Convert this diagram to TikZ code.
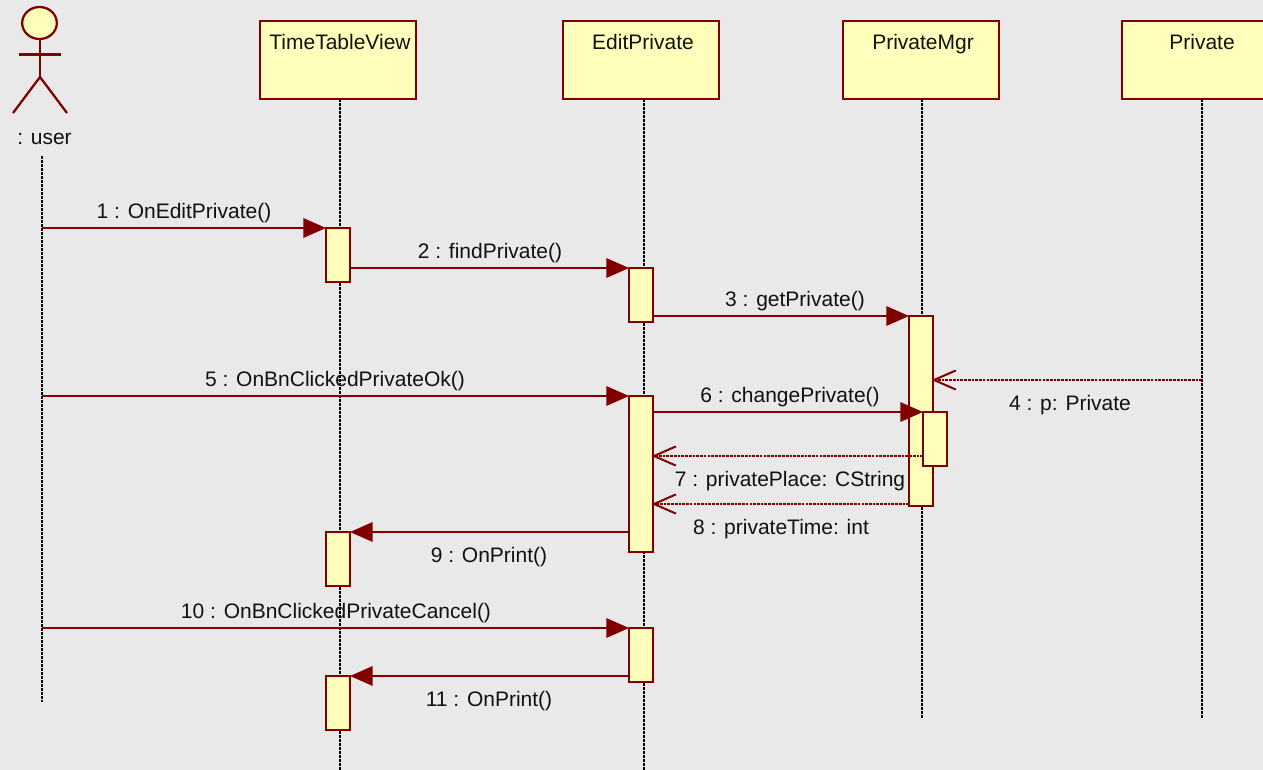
\documentclass[tikz,border=0pt]{standalone}
\usepackage{fontspec}
\setmainfont{Liberation Sans}
\usetikzlibrary{arrows.meta,shapes.geometric}
\definecolor{bgc}{HTML}{E9E9E9}
\definecolor{linec}{HTML}{800000}
\definecolor{fillc}{HTML}{FFFFBB}
\definecolor{txtc}{HTML}{111111}
\tikzset{
  headbox/.style={draw=linec,fill=fillc,line width=1.8pt,rectangle,inner sep=0pt,outer sep=0pt,anchor=north west,
    minimum width=117pt,text height=21.75pt,text depth=36.75pt,text=txtc,font=\fontsize{15.75}{18}\selectfont,
    execute at begin node={\hspace*{3pt}}},
  actbox/.style={draw=linec,fill=fillc,line width=1.8pt,rectangle,inner sep=0pt,outer sep=0pt,anchor=north west,minimum width=18pt},
  lifeline/.style={draw=black,line width=1.5pt,dash pattern=on 2pt off 1pt},
  callmsg/.style={draw=linec,line width=1.8pt,-{Triangle[length=17pt,width=14.5pt]}},
  retmsg/.style={draw=linec,line width=1.6pt,dash pattern=on 2pt off 0.8pt,-{Straight Barb[length=16pt,width=14pt,line width=1.5pt,round]}},
  msglabel/.style={anchor=base,inner sep=0pt,text=txtc,font=\fontsize{15.75}{18}\selectfont},
  figure/.style={draw=linec,line width=1.7pt}
}
\begin{document}
\begin{tikzpicture}[x=0.75pt,y=0.75pt]
\path[use as bounding box,fill=bgc] (0,0) rectangle (1263,-770);
\clip (0,0) rectangle (1263,-770);
% actor
\node[draw=linec,fill=fillc,line width=1.7pt,ellipse,minimum width=26pt,minimum height=24pt,inner sep=0pt,outer sep=0pt] (head) at (39.5,-23) {};
\coordinate (hip) at (40,-77);
\coordinate (armL) at (19,-54.5);
\coordinate (armR) at (61,-54.5);
\coordinate (footL) at (13,-113);
\coordinate (footR) at (67,-113);
\draw[figure] (head.south -| hip) -- (hip);
\draw[figure] (armL) -- (armR);
\draw[figure] (footL) -- (hip) -- (footR);
\node[msglabel] (user) at (44.5,-145) {: user};
% header boxes
\node[headbox] (tv) at (260,-21) {TimeTableView};
\node[headbox] (ep) at (563,-21) {EditPrivate};
\node[headbox] (pm) at (843,-21) {PrivateMgr};
\node[headbox] (pv) at (1122,-21) {Private};
% lifeline ends
\coordinate (ustart) at (42,-156);
\coordinate (uend) at (42,-702);
\coordinate (tvend) at (340,-772);
\coordinate (epend) at (643.5,-772);
\coordinate (pmend) at (922,-718);
\coordinate (pvend) at (1202,-718);
\draw[lifeline] (ustart) -- (uend);
\draw[lifeline] (tv.south -| tvend) -- (tvend);
\draw[lifeline] (ep.south -| epend) -- (epend);
\draw[lifeline] (pm.south -| pmend) -- (pmend);
\draw[lifeline] (pv.south -| pvend) -- (pvend);
% activations
\node[actbox,minimum height=40.5pt] (tva) at (326,-228) {};
\node[actbox,minimum height=40.5pt] (tvb) at (326,-532) {};
\node[actbox,minimum height=40.5pt] (tvc) at (326,-676) {};
\node[actbox,minimum height=40.5pt] (epa) at (629,-268) {};
\node[actbox,minimum height=117pt] (epb) at (629,-396) {};
\node[actbox,minimum height=40.5pt] (epc) at (629,-628) {};
\node[actbox,minimum height=142.5pt] (pma) at (909,-316) {};
% reply points
\coordinate (r4) at (1202,-380);
\coordinate (r7) at (923,-456);
\coordinate (r8) at (909,-504);
\coordinate (c9) at (629,-532);
\coordinate (c11) at (629,-676);
% messages
\draw[callmsg] (uend |- tva.north) -- (tva.north west);
\draw[callmsg] (tva.east |- epa.north) -- (epa.north west);
\draw[callmsg] (epa.east |- pma.north) -- (pma.north west);
\draw[retmsg] (r4) -- (pma.east |- r4);
\draw[callmsg] (uend |- epb.north) -- (epb.north west);
\draw[retmsg] (r8) -- (epb.east |- r8);
\draw[retmsg] (r7) -- (epb.east |- r7);
\node[actbox,minimum height=40.5pt] (pmb) at (923,-412) {};
\draw[callmsg] (epb.east |- pmb.north) -- (pmb.north west);
\draw[callmsg] (c9) -- (tvb.north east);
\draw[callmsg] (uend |- epc.north) -- (epc.north west);
\draw[callmsg] (c11) -- (tvc.north east);
% labels
\node[msglabel] (l1) at (184,-218) {1 : OnEditPrivate()};
\node[msglabel] (l2) at (490,-258) {2 : findPrivate()};
\node[msglabel] (l3) at (795,-306) {3 : getPrivate()};
\node[msglabel] (l4) at (1070,-410) {4 : p: Private};
\node[msglabel] (l5) at (335,-386) {5 : OnBnClickedPrivateOk()};
\node[msglabel] (l6) at (790,-402) {6 : changePrivate()};
\node[msglabel] (l7) at (790,-486) {7 : privatePlace: CString};
\node[msglabel] (l8) at (781,-534) {8 : privateTime: int};
\node[msglabel] (l9) at (489,-562) {9 : OnPrint()};
\node[msglabel] (l10) at (336,-618) {10 : OnBnClickedPrivateCancel()};
\node[msglabel] (l11) at (489,-706) {11 : OnPrint()};
\end{tikzpicture}
\end{document}
